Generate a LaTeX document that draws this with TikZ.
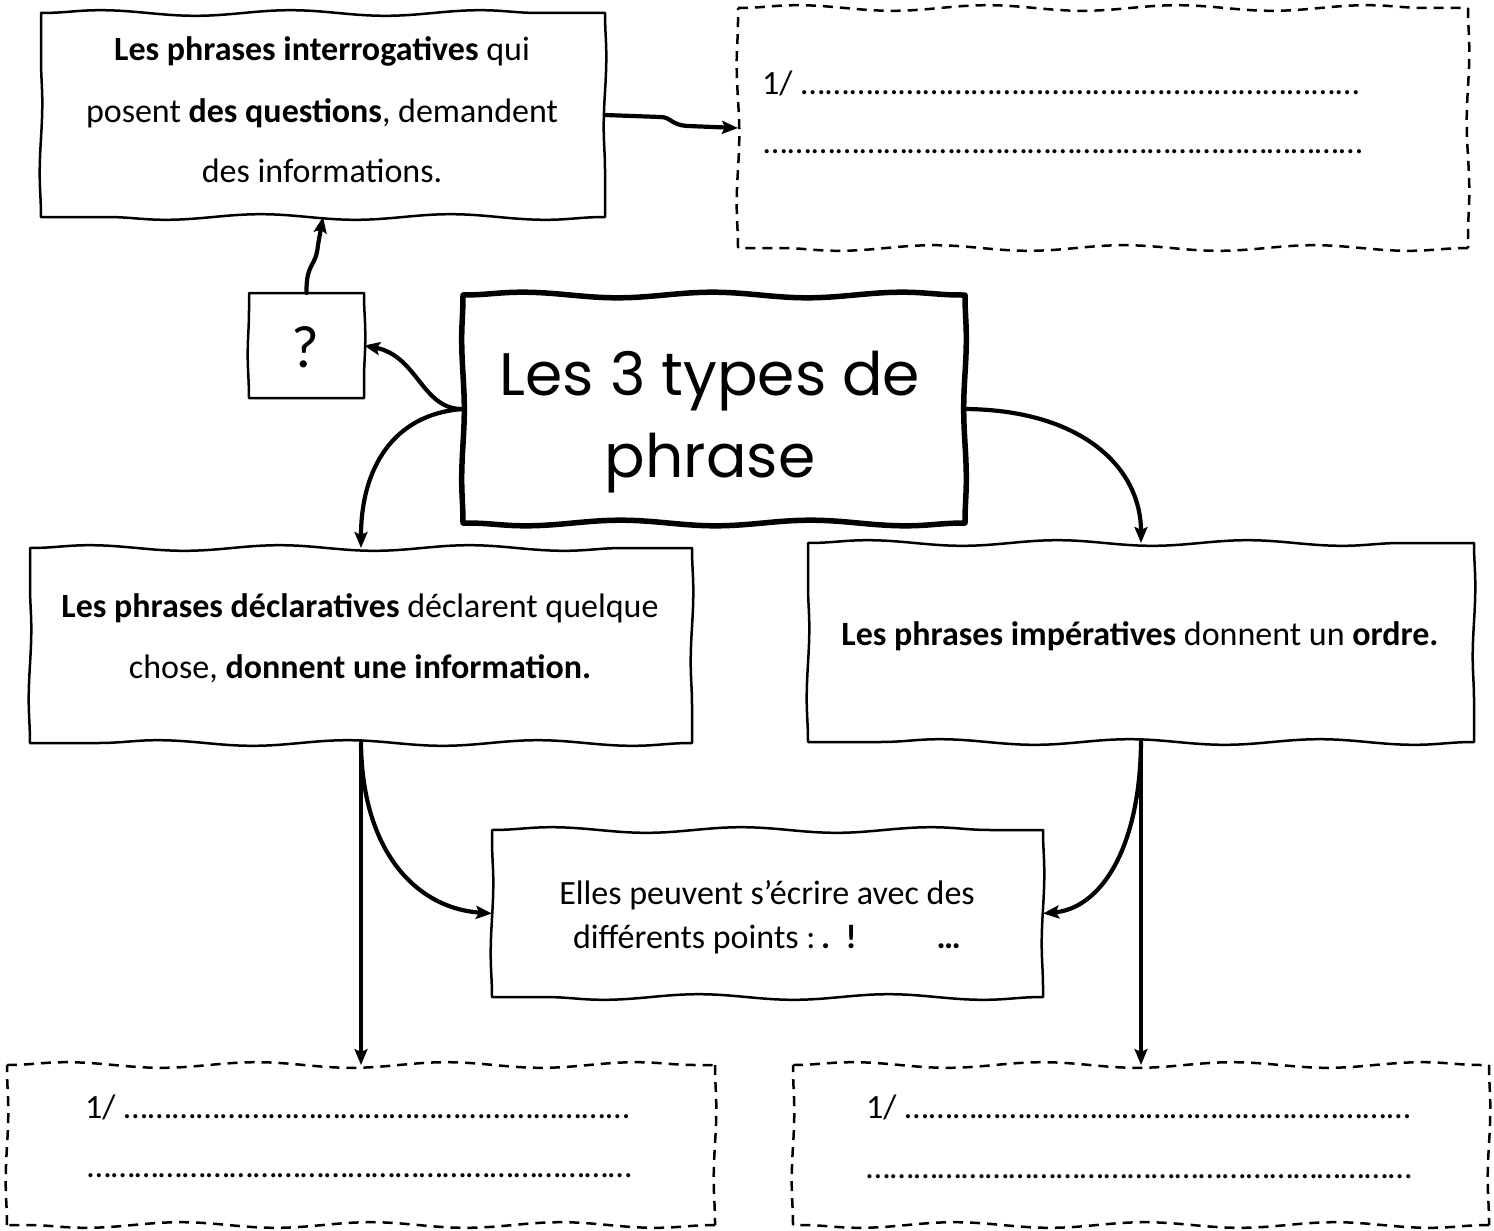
\documentclass[tikz,border=0pt]{standalone}
\usepackage{fontspec}
\setmainfont{Carlito}
\newfontfamily\titlefont{Poppins}
\usetikzlibrary{decorations.pathmorphing,arrows.meta}
\tikzset{
  hw/.style={decoration={snake,amplitude=2.8pt,segment length=190pt}},
  vw/.style={decoration={snake,amplitude=1.3pt,segment length=140pt}},
  boxline/.style={line width=2.5pt,line cap=round,line join=round},
  titleline/.style={line width=5.5pt,line cap=round,line join=round},
  dashline/.style={line width=2.5pt,dash pattern=on 10pt off 7pt},
  conn/.style={line width=4.2pt,line cap=round,-{Stealth[length=16pt,width=13pt,inset=3pt]}},
  boxn/.style={draw=none,inner sep=0pt,outer sep=0pt,rectangle},
  txt/.style={inner sep=0pt,anchor=base,font=\fontsize{34}{40}\selectfont},
  txtl/.style={txt,anchor=base west},
}
\newcommand\wavy[2]{%
  \draw[#2] decorate[hw]{(#1.north west) -- (#1.north east)}
            decorate[vw]{(#1.north east) -- (#1.south east)}
            decorate[hw]{(#1.south east) -- (#1.south west)}
            decorate[vw]{(#1.south west) -- (#1.north west)};}
\newcommand\dotrun[1]{\hbox to #1pt{\xleaders\hbox{…}\hfill}}
\begin{document}
\begin{tikzpicture}[x=1pt,y=-1pt]
\useasboundingbox (0,0) rectangle (1494,1231);
% boxes
\node[boxn,minimum width=564pt,minimum height=204pt] (inter) at (323,115) {};
\node[boxn,minimum width=115pt,minimum height=105pt] (qbox) at (306.5,345.5) {};
\node[boxn,minimum width=502pt,minimum height=228pt] (title) at (714,409) {};
\node[boxn,minimum width=662pt,minimum height=195pt] (decl) at (361,645.5) {};
\node[boxn,minimum width=666pt,minimum height=199pt] (imp) at (1141,642.5) {};
\node[boxn,minimum width=551pt,minimum height=167pt] (mid) at (767.5,913.5) {};
\node[boxn,minimum width=730pt,minimum height=240pt] (rtop) at (1103,128) {};
\node[boxn,minimum width=708pt,minimum height=160pt] (lbot) at (361,1145) {};
\node[boxn,minimum width=696pt,minimum height=160pt] (rbot) at (1141,1145) {};
\wavy{inter}{boxline}
\wavy{qbox}{boxline}
\wavy{title}{titleline}
\wavy{decl}{boxline}
\wavy{imp}{boxline}
\wavy{mid}{boxline}
\wavy{rtop}{dashline}
\wavy{lbot}{dashline}
\wavy{rbot}{dashline}
% texts
\node[txt] (i1) at (322,61) {\textbf{Les phrases interrogatives} qui};
\node[txt] (i2) at (322,122) {posent \textbf{des questions}, demandent};
\node[txt] (i3) at (322,182) {des informations.};
\node[txt,font=\fontsize{60}{70}\selectfont] (qt) at (305,367) {?};
\node[txt,font={\titlefont\fontsize{60}{70}\selectfont}] (t1) at (710,395) {Les 3 types de};
\node[txt,font={\titlefont\fontsize{60}{70}\selectfont}] (t2) at (710,477) {phrase};
\node[txt] (d1) at (360,617) {\textbf{Les phrases déclaratives} déclarent quelque};
\node[txt] (d2) at (360,678) {chose, \textbf{donnent une information.}};
\node[txt] (p1) at (1140,645) {\textbf{Les phrases impératives} donnent un \textbf{ordre.}};
\node[txt] (m1) at (767,904) {Elles peuvent s’écrire avec des};
\node[txt] (m2) at (767,948) {différents points :\,\textbf{.\ \ !}\hspace{80pt}\textbf{…}};
\node[txtl] (r1) at (762,94) {1/ \dotrun{560}};
\node[txtl] (r2) at (763,153) {\dotrun{600}};
\node[txtl] (l1) at (85,1118) {1/ \dotrun{507}};
\node[txtl] (l2) at (87,1177) {\dotrun{545}};
\node[txtl] (b1) at (866,1118) {1/ \dotrun{507}};
\node[txtl] (b2) at (866,1178) {\dotrun{546}};
% connectors
\draw[conn] (inter.east) -- (660,117) .. controls (672,117) and (670,125) .. (688,126) -- (rtop.west);
\draw[conn] (qbox.north) .. controls (306,262) and (316,268) .. (318,245) -- (inter.south);
\draw[conn] (title.west) .. controls (422,410) and (418,356) .. (qbox.east);
\draw[conn] (title.west) .. controls (392,414) and (361,470) .. (decl.north);
\draw[conn] (title.east) .. controls (1085,410) and (1141,470) .. (imp.north);
\draw[conn] (decl.south) -- (lbot.north);
\draw[conn] (decl.south) .. controls (362,850) and (415,908) .. (mid.west);
\draw[conn] (imp.south) -- (rbot.north);
\draw[conn] (imp.south) .. controls (1140,850) and (1100,908) .. (mid.east);
\end{tikzpicture}
\end{document}
